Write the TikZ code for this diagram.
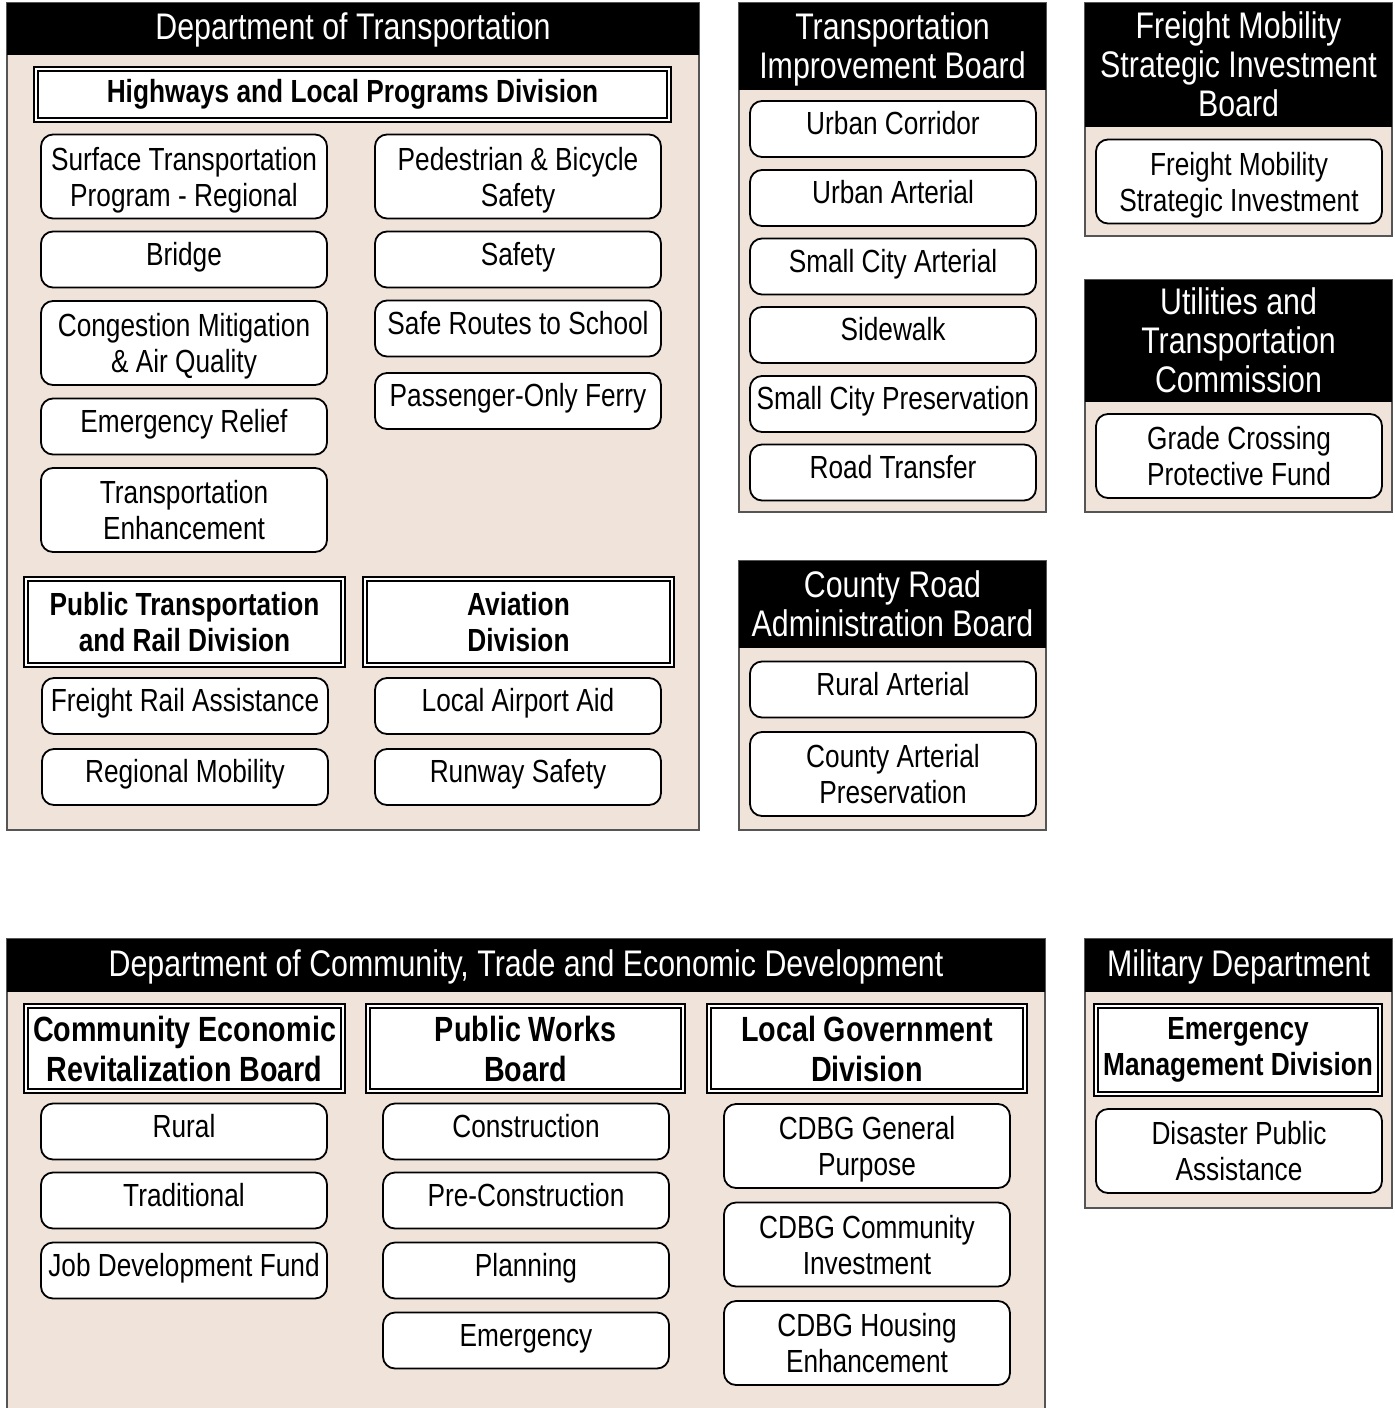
\documentclass[tikz,border=0pt]{standalone}
\usepackage{fontspec}
\setmainfont{Liberation Sans}[FakeStretch=0.82]
\usepackage{tikz}
\definecolor{marble}{HTML}{EFE3DA}
\definecolor{rim}{HTML}{555555}
\tikzset{
  panel/.style={draw=rim, line width=0.7pt, fill=marble, inner sep=0pt},
  head/.style={fill=black, text=white, inner sep=0pt, align=center, text height=13.25pt, text depth=2pt, font=\fontsize{18.5}{19.5}\selectfont},
  twoline/.style={text height=32.75pt, text depth=0pt},
  threeline/.style={text height=52.25pt, text depth=0pt},
  division/.style={draw, line width=1pt, double=white, double distance=1pt, fill=white, inner sep=0pt, align=center, font=\fontsize{16}{18}\selectfont\bfseries},
  item/.style={draw, line width=0.9pt, rounded corners=6pt, fill=white, inner sep=0pt, align=center, minimum width=143pt, minimum height=28pt, text height=11.5pt, text depth=6pt, font=\fontsize{16}{18}\selectfont},
  tall/.style={minimum height=42pt, text height=29.5pt, text depth=0pt}
}

\begin{document}
\begin{tikzpicture}[x=0.5pt, y=-0.5pt]
\useasboundingbox (0,0) rectangle (1394,1408);

% Department of Transportation
\node[panel, minimum width=346pt, minimum height=413.5pt] (dot) at (353,416.5) {};
\node[head, minimum width=346pt, minimum height=26pt, anchor=north] (dothead) at (dot.north) {Department of Transportation};
\node[division, minimum width=316.5pt, minimum height=25.5pt] (hlp) at (352.5,94.5) {Highways and Local Programs Division};
\node[item, tall] (stp) at (184,176.5) {Surface Transportation\\Program - Regional};
\node[item] (bridge) at (184,259.5) {Bridge};
\node[item, tall] (cmaq) at (184,343) {Congestion Mitigation\\\& Air Quality};
\node[item] (erelief) at (184,426.5) {Emergency Relief};
\node[item, tall] (tenh) at (184,510) {Transportation\\Enhancement};
\node[item, tall] (pedbike) at (518,176.5) {Pedestrian \& Bicycle\\Safety};
\node[item] (safety) at (518,259.5) {Safety};
\node[item] (srts) at (518,328.5) {Safe Routes to School};
\node[item] (ferry) at (518,401) {Passenger-Only Ferry};
\node[division, minimum width=158.5pt, minimum height=43pt] (ptrd) at (184.5,622) {Public Transportation\\and Rail Division};
\node[division, minimum width=153.5pt, minimum height=43pt] (aviation) at (518.5,622) {Aviation\\Division};
\node[item] (frail) at (185,706) {Freight Rail Assistance};
\node[item] (regmob) at (185,777) {Regional Mobility};
\node[item] (airport) at (518,706) {Local Airport Aid};
\node[item] (runway) at (518,777) {Runway Safety};

% Transportation Improvement Board
\node[panel, minimum width=153.5pt, minimum height=254.5pt] (tib) at (892.5,257.5) {};
\node[head, twoline, minimum width=153.5pt, minimum height=43.5pt, anchor=north] (tibhead) at (tib.north) {Transportation\\Improvement Board};
\node[item] (urbcorr) at (893,129) {Urban Corridor};
\node[item] (urbart) at (893,198) {Urban Arterial};
\node[item] (scart) at (893,266.5) {Small City Arterial};
\node[item] (sidewalk) at (893,335) {Sidewalk};
\node[item] (scpres) at (893,404) {Small City Preservation};
\node[item] (roadxfer) at (893,472.5) {Road Transfer};

% Freight Mobility Strategic Investment Board
\node[panel, minimum width=153.5pt, minimum height=116.5pt] (fmsib) at (1238.5,119.5) {};
\node[head, threeline, minimum width=153.5pt, minimum height=62pt, anchor=north] (fmsibhead) at (fmsib.north) {Freight Mobility\\Strategic Investment\\Board};
\node[item, tall] (fmsi) at (1239,181.5) {Freight Mobility\\Strategic Investment};

% Utilities and Transportation Commission
\node[panel, minimum width=153.5pt, minimum height=116pt] (utc) at (1238.5,396) {};
\node[head, threeline, minimum width=153.5pt, minimum height=61pt, anchor=north] (utchead) at (utc.north) {Utilities and\\Transportation\\Commission};
\node[item, tall] (gcpf) at (1239,456) {Grade Crossing\\Protective Fund};

% County Road Administration Board
\node[panel, minimum width=153.5pt, minimum height=134.5pt] (crab) at (892.5,695.5) {};
\node[head, twoline, minimum width=153.5pt, minimum height=43.5pt, anchor=north] (crabhead) at (crab.north) {County Road\\Administration Board};
\node[item] (rurart) at (893,689.5) {Rural Arterial};
\node[item, tall] (cap) at (893,774) {County Arterial\\Preservation};

% Department of Community, Trade and Economic Development
\node[panel, minimum width=519pt, minimum height=236pt] (cted) at (526,1175) {};
\node[head, minimum width=519pt, minimum height=26.5pt, anchor=north] (ctedhead) at (cted.north) {Department of Community, Trade and Economic Development};
\node[division, minimum width=158.5pt, minimum height=42.5pt, font=\fontsize{17.5}{20}\selectfont\bfseries] (cerb) at (184.5,1048.5) {Community Economic\\Revitalization Board};
\node[division, minimum width=157.5pt, minimum height=42.5pt, font=\fontsize{17.5}{20}\selectfont\bfseries] (pwb) at (525.5,1048.5) {Public Works\\Board};
\node[division, minimum width=158pt, minimum height=42.5pt, font=\fontsize{17.5}{20}\selectfont\bfseries] (lgd) at (867,1048.5) {Local Government\\Division};
\node[item] (rural) at (184,1131.5) {Rural};
\node[item] (trad) at (184,1200.5) {Traditional};
\node[item] (jobdev) at (184,1270.5) {Job Development Fund};
\node[item] (constr) at (526,1131.5) {Construction};
\node[item] (precon) at (526,1200.5) {Pre-Construction};
\node[item] (planning) at (526,1270.5) {Planning};
\node[item] (emerg) at (526,1340.5) {Emergency};
\node[item, tall] (cdbggen) at (867,1146) {CDBG General\\Purpose};
\node[item, tall] (cdbgcomm) at (867,1244.5) {CDBG Community\\Investment};
\node[item, tall] (cdbghous) at (867,1343) {CDBG Housing\\Enhancement};

% Military Department
\node[panel, minimum width=153.5pt, minimum height=134.5pt] (mil) at (1238.5,1073.5) {};
\node[head, minimum width=153.5pt, minimum height=26.5pt, anchor=north] (milhead) at (mil.north) {Military Department};
\node[division, minimum width=142pt, minimum height=44pt] (emd) at (1238,1050) {Emergency\\Management Division};
\node[item, tall] (dpa) at (1239,1151) {Disaster Public\\Assistance};
\end{tikzpicture}
\end{document}
